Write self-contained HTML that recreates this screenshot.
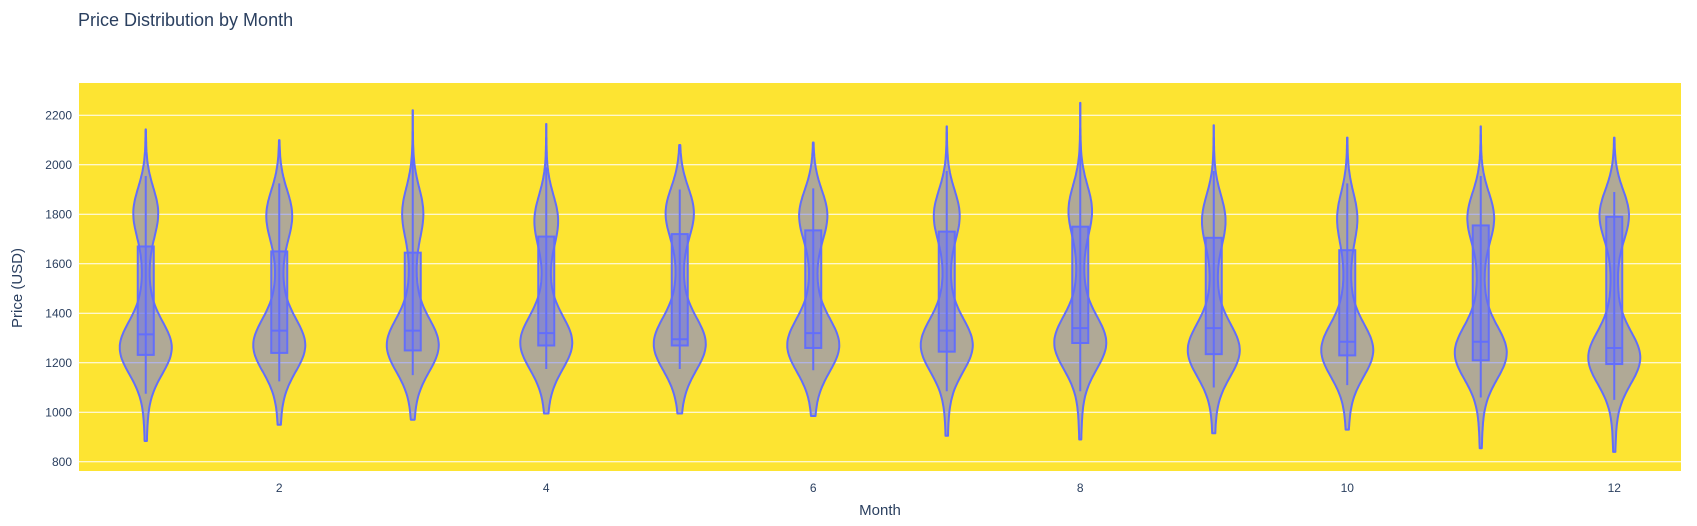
<!DOCTYPE html>
<html><head><meta charset="utf-8"><style>
body{margin:0;background:#fff;}
svg{display:block;font-family:"Liberation Sans",Arial,sans-serif;}
</style></head><body>
<svg id="chart" width="1697" height="526" viewBox="0 0 1697 526">
<rect x="0" y="0" width="1697" height="526" fill="#fff"/>
<text x="78" y="26" font-size="18" fill="#2a3f5f">Price Distribution by Month</text>
<rect x="79" y="83" width="1602" height="388" fill="#fde432"/>
<g id="grid"></g>
<g id="violins"></g>
<text x="880" y="515" font-size="15" fill="#2a3f5f" text-anchor="middle">Month</text>
<text transform="translate(22,288) rotate(-90)" font-size="15" fill="#2a3f5f" text-anchor="middle">Price (USD)</text>
</svg>
<script>
const months=[1,2,3,4,5,6,7,8,9,10,11,12];
const maxV=[2143,2100,2220,2165,2080,2090,2155,2250,2160,2110,2155,2110];
const minV=[884,950,970,995,995,985,905,890,915,930,855,840];
const q3=[1670,1650,1645,1710,1720,1735,1730,1750,1705,1655,1755,1790];
const med=[1315,1330,1330,1320,1295,1320,1330,1340,1340,1285,1285,1260];
const q1=[1232,1240,1250,1270,1270,1260,1245,1280,1235,1230,1210,1195];
const whiskHi=[1955,1925,2050,1990,1900,1905,1975,2060,1975,1925,1955,1890];
const whiskLo=[1075,1125,1150,1175,1175,1170,1085,1085,1100,1110,1060,1050];
const lowMode=[1260,1270,1270,1280,1275,1270,1270,1280,1250,1250,1240,1220];
const highMode=[1810,1800,1810,1780,1810,1800,1800,1820,1780,1790,1790,1800];
const highRatio=[0.48,0.5,0.4,0.45,0.55,0.55,0.5,0.45,0.45,0.38,0.52,0.58];
const yTicks=[800,1000,1200,1400,1600,1800,2000,2200];
const xTicks=[2,4,6,8,10,12];

const NS="http://www.w3.org/2000/svg";
const X=m=>79+(m-0.5)*133.5;
const Y=v=>115.3+(2200-v)*0.2475;
function mk(tag,attrs,parent){const e=document.createElementNS(NS,tag);for(const k in attrs)e.setAttribute(k,attrs[k]);parent.appendChild(e);return e;}
const grid=document.getElementById('grid');
yTicks.forEach(t=>{
  const l=mk('line',{x1:79,x2:1681,y1:Y(t),y2:Y(t),stroke:'#fff','stroke-width':1},grid);
  
  
  const tx=mk('text',{x:72,y:Y(t)+4,'font-size':12,fill:'#2a3f5f','text-anchor':'end'},grid);
  tx.textContent=t;
  
  
});
xTicks.forEach(t=>{
  const tx=mk('text',{x:X(t),y:492,'font-size':12,fill:'#2a3f5f','text-anchor':'middle'},grid);
  tx.textContent=t;
  
  
});
const vg=document.getElementById('violins');
const HW=26, sdL=105, sdH=100;
months.forEach((m,i)=>{
  const g=mk('g',{},vg);
  
  
  const mid=(lowMode[i]+highMode[i])/2;
  const dens=v=>Math.exp(-0.5*((v-lowMode[i])/sdL)**2)+highRatio[i]*Math.exp(-0.5*((v-highMode[i])/sdH)**2)+0.12*Math.exp(-0.5*((v-mid)/200)**2)+0.08*Math.exp(-0.5*((v-lowMode[i]+150)/200)**2);
  const N=140,pts=[];let mx=0;
  for(let k=0;k<=N;k++){const v=minV[i]+(maxV[i]-minV[i])*k/N;const d=dens(v)+0.005;pts.push([v,d]);if(d>mx)mx=d;}
  const cx=X(m);
  let dstr='';
  pts.forEach((p,k)=>{dstr+=(k?'L':'M')+(cx+p[1]/mx*HW).toFixed(1)+','+Y(p[0]).toFixed(1);});
  for(let k=pts.length-1;k>=0;k--){const p=pts[k];dstr+='L'+(cx-p[1]/mx*HW).toFixed(1)+','+Y(p[0]).toFixed(1);}
  dstr+='Z';
  const vp=mk('path',{d:dstr,fill:'rgba(99,110,250,0.5)',stroke:'#636efa','stroke-width':2,'stroke-linejoin':'round'},g);
  
  
  const w=mk('line',{x1:cx,x2:cx,y1:Y(whiskHi[i]),y2:Y(whiskLo[i]),stroke:'#636efa','stroke-width':2},g);
  
  
  const b=mk('rect',{x:cx-8,y:Y(q3[i]),width:16,height:Y(q1[i])-Y(q3[i]),fill:'rgba(99,110,250,0.5)',stroke:'#636efa','stroke-width':2},g);
  
  
  const md=mk('line',{x1:cx-8,x2:cx+8,y1:Y(med[i]),y2:Y(med[i]),stroke:'#636efa','stroke-width':2},g);
  
  
});
</script>
</body></html>
